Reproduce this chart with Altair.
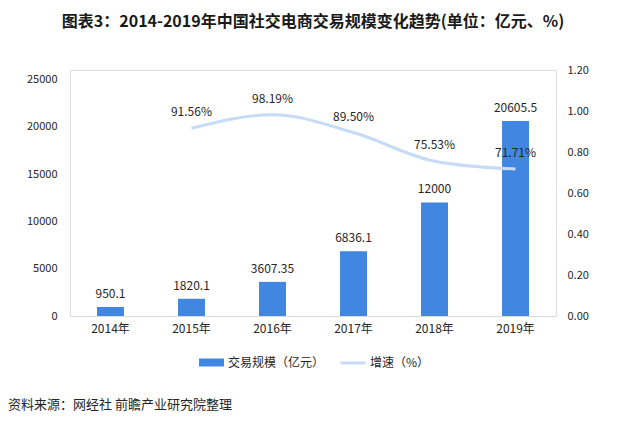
import altair as alt
import pandas as pd

years = ["2014年", "2015年", "2016年", "2017年", "2018年", "2019年"]
volume = [950.1, 1820.1, 3607.35, 6836.1, 12000, 20605.5]
growth = [None, 0.9156, 0.9819, 0.8950, 0.7553, 0.7171]

bar_name = "交易规模（亿元）"
line_name = "增速（%）"
BAR_COLOR = "#4186E0"
LINE_COLOR = "#C6DBF6"
FONT = "Noto Sans CJK SC"
TXT = "#262626"

df = pd.DataFrame({"year": years, "volume": volume, "growth": growth})

x_enc = alt.X(
    "year:N",
    sort=years,
    title=None,
    scale=alt.Scale(paddingInner=0.667, paddingOuter=0.333),
    axis=alt.Axis(labelAngle=0, ticks=False, domainColor="#D9D9D9", domainWidth=1,
                  labelPadding=7, labelFontSize=12, labelColor=TXT, labelFont=FONT),
)

def make_legend(x, symbol):
    kw = dict(
        title=None, orient="none", legendX=x, legendY=279, direction="horizontal",
        labelFontSize=12, labelColor=TXT, labelFont=FONT, symbolSize=625, labelOffset=3,
        symbolType=symbol,
    )
    if symbol == "stroke":
        kw["symbolStrokeWidth"] = 3
    return alt.Legend(**kw)

base = alt.Chart(df)

bars = base.transform_calculate(series=f"'{bar_name}'").mark_bar().encode(
    x=x_enc,
    y=alt.Y("volume:Q", title=None,
            scale=alt.Scale(domain=[0, 25000]),
            axis=alt.Axis(values=[0, 5000, 10000, 15000, 20000, 25000], grid=False, ticks=False,
                          domain=False, labelPadding=13, labelFontSize=11, labelColor=TXT,
                          labelFont=FONT, format="d")),
    fill=alt.Fill("series:N", scale=alt.Scale(domain=[bar_name], range=[BAR_COLOR]),
                  legend=make_legend(128, "M-1,-0.32H1V0.32H-1Z")),
)

bar_text = base.transform_calculate(lbl="toString(datum.volume)").mark_text(
    dy=-13, fontSize=12, color=TXT, font=FONT
).encode(
    x=alt.X("year:N", sort=years),
    y=alt.Y("volume:Q"),
    text="lbl:N",
)

left = alt.layer(bars, bar_text)

line_data = base.transform_filter("datum.growth != null").transform_calculate(series=f"'{line_name}'")

line = line_data.mark_line(interpolate="monotone", strokeWidth=3).encode(
    x=alt.X("year:N", sort=years),
    y=alt.Y("growth:Q", title=None,
            scale=alt.Scale(domain=[0, 1.2]),
            axis=alt.Axis(orient="right", values=[0, 0.2, 0.4, 0.6, 0.8, 1.0, 1.2], format=".2f",
                          grid=False, ticks=False, domain=False, labelPadding=11,
                          labelFontSize=11, labelColor=TXT, labelFont=FONT)),
    stroke=alt.Stroke("series:N", scale=alt.Scale(domain=[line_name], range=[LINE_COLOR]),
                      legend=make_legend(269, "stroke")),
)

line_text = line_data.mark_text(dy=-16, fontSize=12, color=TXT, font=FONT).encode(
    x=alt.X("year:N", sort=years),
    y=alt.Y("growth:Q"),
    text=alt.Text("growth:Q", format=".2%"),
)

right = alt.layer(line, line_text)

source = alt.Chart(pd.DataFrame({"t": ["资料来源：网经社 前瞻产业研究院整理"]})).mark_text(
    align="left", baseline="middle", fontSize=13, color=TXT, font=FONT
).encode(x=alt.value(-62), y=alt.value(335), text="t:N")

chart = alt.layer(left, right, source).resolve_scale(y="independent").properties(
    width=486,
    height=246,
    title=alt.TitleParams(
        "图表3：2014-2019年中国社交电商交易规模变化趋势(单位：亿元、%)",
        fontSize=16, fontWeight="bold", font=FONT, color="#1a1a1a", anchor="middle", offset=34,
    ),
    autosize=alt.AutoSizeParams(type="none"),
    padding={"left": 62, "top": 62, "right": 56, "bottom": 96},
).configure_view(stroke=None).configure(background="white")

chart.save("out.html", embed_options={"renderer": "svg", "actions": False})
